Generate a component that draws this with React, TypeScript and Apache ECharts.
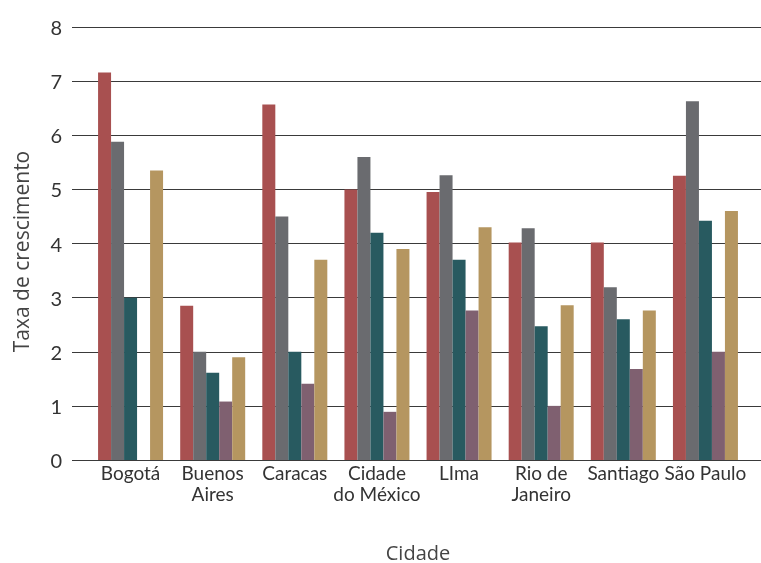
import React, { useEffect, useRef } from "react";
import * as echarts from "echarts";

const categories = [
  "Bogotá",
  "Buenos\nAires",
  "Caracas",
  "Cidade\ndo México",
  "LIma",
  "Rio de\nJaneiro",
  "Santiago",
  "São Paulo",
];

const seriesNames = ["Série 1", "Série 2", "Série 3", "Série 4", "Série 5"];
const serie1 = [7.16, 2.85, 6.57, 5.0, 4.95, 4.02, 4.02, 5.25];
const serie2 = [5.88, 2.0, 4.5, 5.6, 5.26, 4.28, 3.19, 6.63];
const serie3 = [3.0, 1.61, 2.0, 4.2, 3.7, 2.47, 2.6, 4.42];
const serie4: (number | null)[] = [null, 1.08, 1.41, 0.89, 2.76, 1.0, 1.68, 2.0];
const serie5 = [5.35, 1.9, 3.7, 3.9, 4.3, 2.86, 2.76, 4.6];

const colors = ["#A85050", "#6A6B6F", "#285A60", "#7F6070", "#B59660"];
const yTicks = [0, 1, 2, 3, 4, 5, 6, 7, 8];

export default function App() {
  const ref = useRef<HTMLDivElement>(null);
  useEffect(() => {
    if (!ref.current) return;
    const chart = echarts.init(ref.current, null, { renderer: "svg" });
    const font = "Lato, 'Open Sans', sans-serif";
    const titleFont = "'Open Sans', Lato, sans-serif";
    const allSeries = [serie1, serie2, serie3, serie4, serie5];
    chart.setOption({
      animation: false,
      grid: [
        { left: 72, right: 0, top: 27, bottom: 103, outerBoundsMode: "none", containLabel: false },
        { left: 89.5, width: 657, top: 27, bottom: 103, outerBoundsMode: "none", containLabel: false },
      ],
      xAxis: [
        {
          type: "category",
          gridIndex: 0,
          data: categories,
          show: false,
        },
        {
          type: "category",
          gridIndex: 1,
          data: categories,
          axisLine: { show: false },
          axisTick: { show: false },
          axisLabel: {
            color: "#333",
            fontFamily: font,
            fontSize: 19,
            lineHeight: 21,
            margin: 2,
            interval: 0,
          },
          name: "Cidade",
          nameLocation: "middle",
          nameGap: 82,
          nameTextStyle: { color: "#444", fontFamily: titleFont, fontSize: 20 },
        },
      ],
      yAxis: [
        {
          type: "value",
          gridIndex: 0,
          min: yTicks[0],
          max: yTicks[yTicks.length - 1],
          interval: 1,
          axisLine: { show: false },
          axisTick: { show: false },
          splitLine: { lineStyle: { color: "#3a3a3a", width: 1 } },
          axisLabel: {
            color: "#333",
            fontFamily: font,
            fontSize: 20,
            margin: 10,
          },
          name: "Taxa de crescimento",
          nameLocation: "middle",
          nameGap: 41,
          nameTextStyle: {
            color: "#444",
            fontFamily: titleFont,
            fontSize: 21,
            padding: [0, 16, 0, 0],
          },
        },
        {
          type: "value",
          gridIndex: 1,
          min: yTicks[0],
          max: yTicks[yTicks.length - 1],
          interval: 1,
          show: false,
          splitLine: { show: false },
        },
      ],
      series: allSeries.map((d, i) => ({
        name: seriesNames[i],
        type: "bar",
        xAxisIndex: 1,
        yAxisIndex: 1,
        data: d,
        barWidth: 13,
        barGap: "0%",
        itemStyle: { color: colors[i] },
      })),
    });
    return () => chart.dispose();
  }, []);
  return (
    <div
      ref={ref}
      style={{ position: "fixed", left: 0, top: 0, width: 761, height: 563 }}
    />
  );
}
